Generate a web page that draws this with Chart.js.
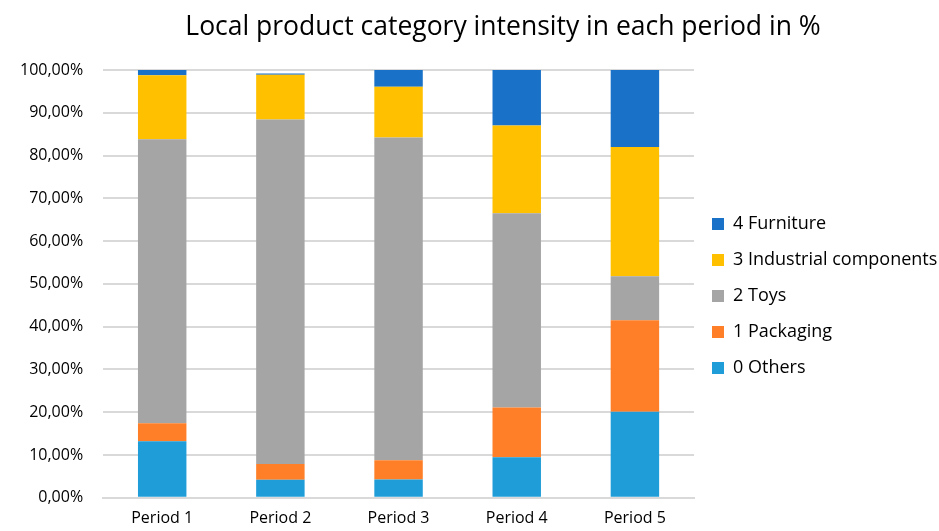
<!DOCTYPE html>
<html lang="en">
<head>
<meta charset="UTF-8">
<title>Local product category intensity</title>
<script src="https://cdn.jsdelivr.net/npm/chart.js"></script>
<style>
  html, body { margin: 0; padding: 0; background: #fff; }
  #wrap { width: 939px; height: 531px; }
</style>
</head>
<body>
<div id="wrap"><canvas id="chart"></canvas></div>
<script>
// data (percent)
var periods = ['Period 1', 'Period 2', 'Period 3', 'Period 4', 'Period 5'];
var others = [13.2, 4.2, 4.3, 9.5, 20.1];
var packaging = [4.2, 3.7, 4.5, 11.6, 21.4];
var toys = [66.4, 80.5, 75.4, 45.4, 10.3];
var industrial = [15.0, 10.5, 11.9, 20.5, 30.2];
var furniture = [1.2, 0.3, 3.9, 13.0, 18.0];
var yTicks = [0, 10, 20, 30, 40, 50, 60, 70, 80, 90, 100];
var chartTitle = 'Local product category intensity in each period in %';

function pct(v) {
  return v.toFixed(2).replace('.', ',') + '%';
}

var font = "'Open Sans', 'Liberation Sans', sans-serif";

// title sits a bit right of the canvas centre in the original, so draw it ourselves
var titlePlugin = {
  id: 'offsetTitle',
  afterDraw: function (chart) {
    var c = chart.ctx;
    c.save();
    c.fillStyle = '#000';
    c.font = '26.5px ' + font;
    c.textAlign = 'center';
    c.textBaseline = 'middle';
    c.fillText(chartTitle, 503, 27);
    c.restore();
  }
};

var ctx = document.getElementById('chart').getContext('2d');
var chart = new Chart(ctx, {
  type: 'bar',
  data: {
    labels: periods,
    datasets: [
      { label: '0 Others', data: others, backgroundColor: '#1f9dd9' },
      { label: '1 Packaging', data: packaging, backgroundColor: '#fe7f27' },
      { label: '2 Toys', data: toys, backgroundColor: '#a5a5a5' },
      { label: '3 Industrial components', data: industrial, backgroundColor: '#ffc000' },
      { label: '4 Furniture', data: furniture, backgroundColor: '#1a72c8' }
    ]
  },
  plugins: [titlePlugin],
  options: {
    responsive: true,
    maintainAspectRatio: false,
    animation: false,
    layout: { padding: { left: 0, right: 0, top: 70, bottom: 0 } },
    datasets: { bar: { categoryPercentage: 1.0, barPercentage: 0.41 } },
    plugins: {
      title: { display: false },
      legend: {
        position: 'right',
        fullSize: false,
        reverse: true,
        maxWidth: 245,
        title: { display: true, text: ' ', font: { size: 10 }, padding: { top: 12, bottom: 0 } },
        labels: {
          color: '#000',
          boxWidth: 12,
          boxHeight: 12,
          padding: 18,
          font: { family: font, size: 18 }
        }
      },
      tooltip: { enabled: false }
    },
    scales: {
      x: {
        stacked: true,
        grid: { display: false },
        border: { color: '#d9d9d9', width: 2 },
        ticks: { color: '#000', font: { family: font, size: 16 }, padding: 3 }
      },
      y: {
        stacked: true,
        min: 0,
        max: 100,
        afterBuildTicks: function (axis) {
          axis.ticks = yTicks.map(function (v) { return { value: v }; });
        },
        grid: { color: '#d9d9d9', lineWidth: 2, drawTicks: false },
        border: { display: false },
        ticks: {
          color: '#000',
          padding: 20,
          font: { family: font, size: 16 },
          callback: function (v) { return pct(v); }
        }
      }
    }
  }
});
</script>
</body>
</html>
